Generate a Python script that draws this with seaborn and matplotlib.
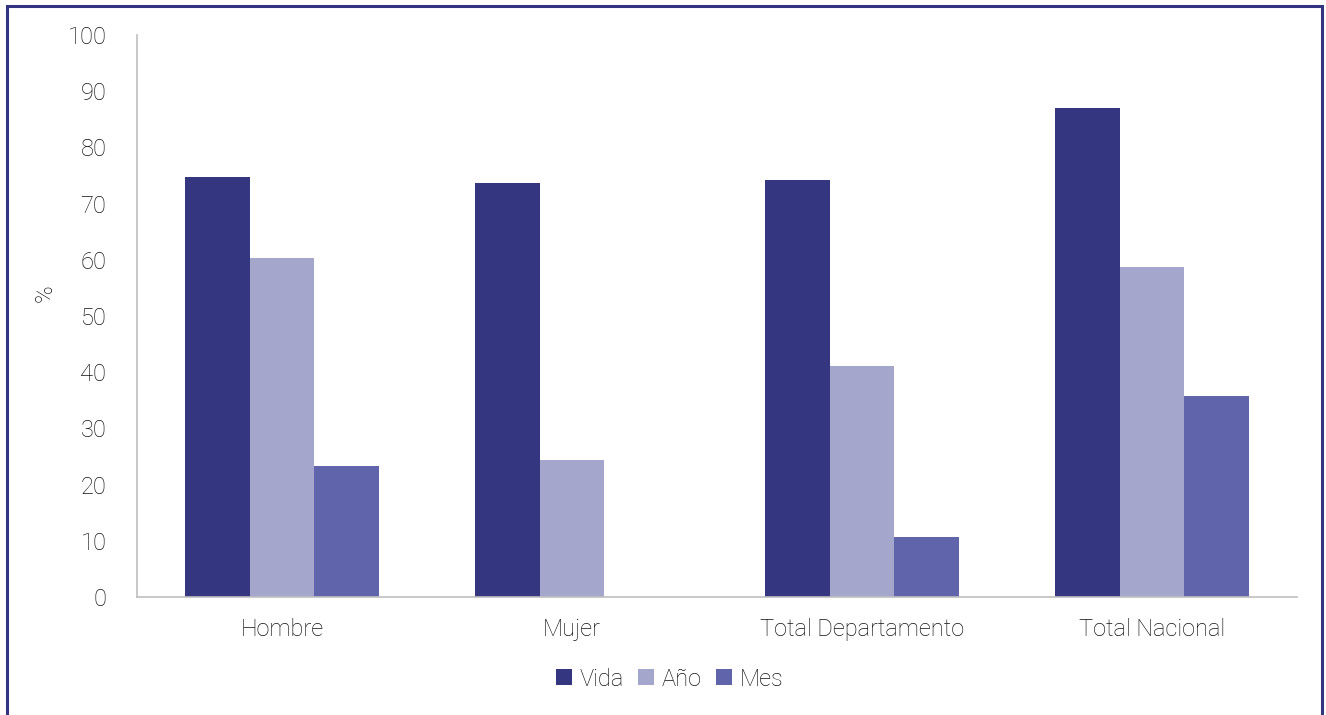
import pandas as pd
import numpy as np
import matplotlib.pyplot as plt
import seaborn as sns
from matplotlib.patches import Rectangle

sns.set_theme(style="white")
plt.rcParams['font.family'] = ['Roboto', 'DejaVu Sans']
plt.rcParams['font.weight'] = 'light'

# datos
categorias = ["Hombre", "Mujer", "Total Departamento", "Total Nacional"]
vida = [74.8, 73.6, 74.2, 87.0]
anio = [60.4, 24.4, 41.1, 58.7]
mes = [23.3, np.nan, 10.7, 35.8]
series = ["Vida", "Año", "Mes"]
colores = ["#343680", "#a4a6cc", "#6064ab"]

df = pd.DataFrame({"Categoria": categorias, "Vida": vida, "Año": anio, "Mes": mes})
df = df.melt(id_vars="Categoria", var_name="Serie", value_name="Valor")

fig = plt.figure(figsize=(13.26, 7.15), dpi=100)
ax = fig.add_axes([137 / 1326, 1 - 597 / 715, 1160 / 1326, 562 / 715])

sns.barplot(data=df, x="Categoria", y="Valor", hue="Serie", hue_order=series,
            palette=colores, width=0.667, saturation=1, linewidth=0, ax=ax, legend=True)

ax.set_xlim(-0.5, 3.5)
ax.set_ylim(0, 100)
ax.set_yticks(range(0, 101, 10))
ax.set_xlabel("")
ax.set_ylabel("%", fontsize=17, color="#111111", fontweight="light")
ax.yaxis.set_label_coords(-0.069, 0.54)
ax.tick_params(axis="both", length=0, labelsize=17, labelcolor="#111111")
ax.tick_params(axis="x", pad=15)
ax.tick_params(axis="y", pad=22)
for lab in ax.get_xticklabels() + ax.get_yticklabels():
    lab.set_fontweight("light")

sns.despine(ax=ax)
for s in ["left", "bottom"]:
    ax.spines[s].set_color("#bfbfbf")
    ax.spines[s].set_linewidth(1.2)

ax.legend(loc="center", bbox_to_anchor=(670 / 1326, 1 - 679 / 715),
          bbox_transform=fig.transFigure, ncol=3, frameon=False,
          prop={"size": 17, "weight": "light"}, handlelength=0.65, handleheight=0.65,
          handletextpad=0.35, columnspacing=0.6, labelcolor="#111111")

# marco
fig.add_artist(Rectangle((6.5 / 1326, -0.05), 1315 / 1326, 1.05 - 6.5 / 715,
                         transform=fig.transFigure, fill=False,
                         edgecolor="#333580", linewidth=2.2))

fig.savefig("out.png", dpi=100)
